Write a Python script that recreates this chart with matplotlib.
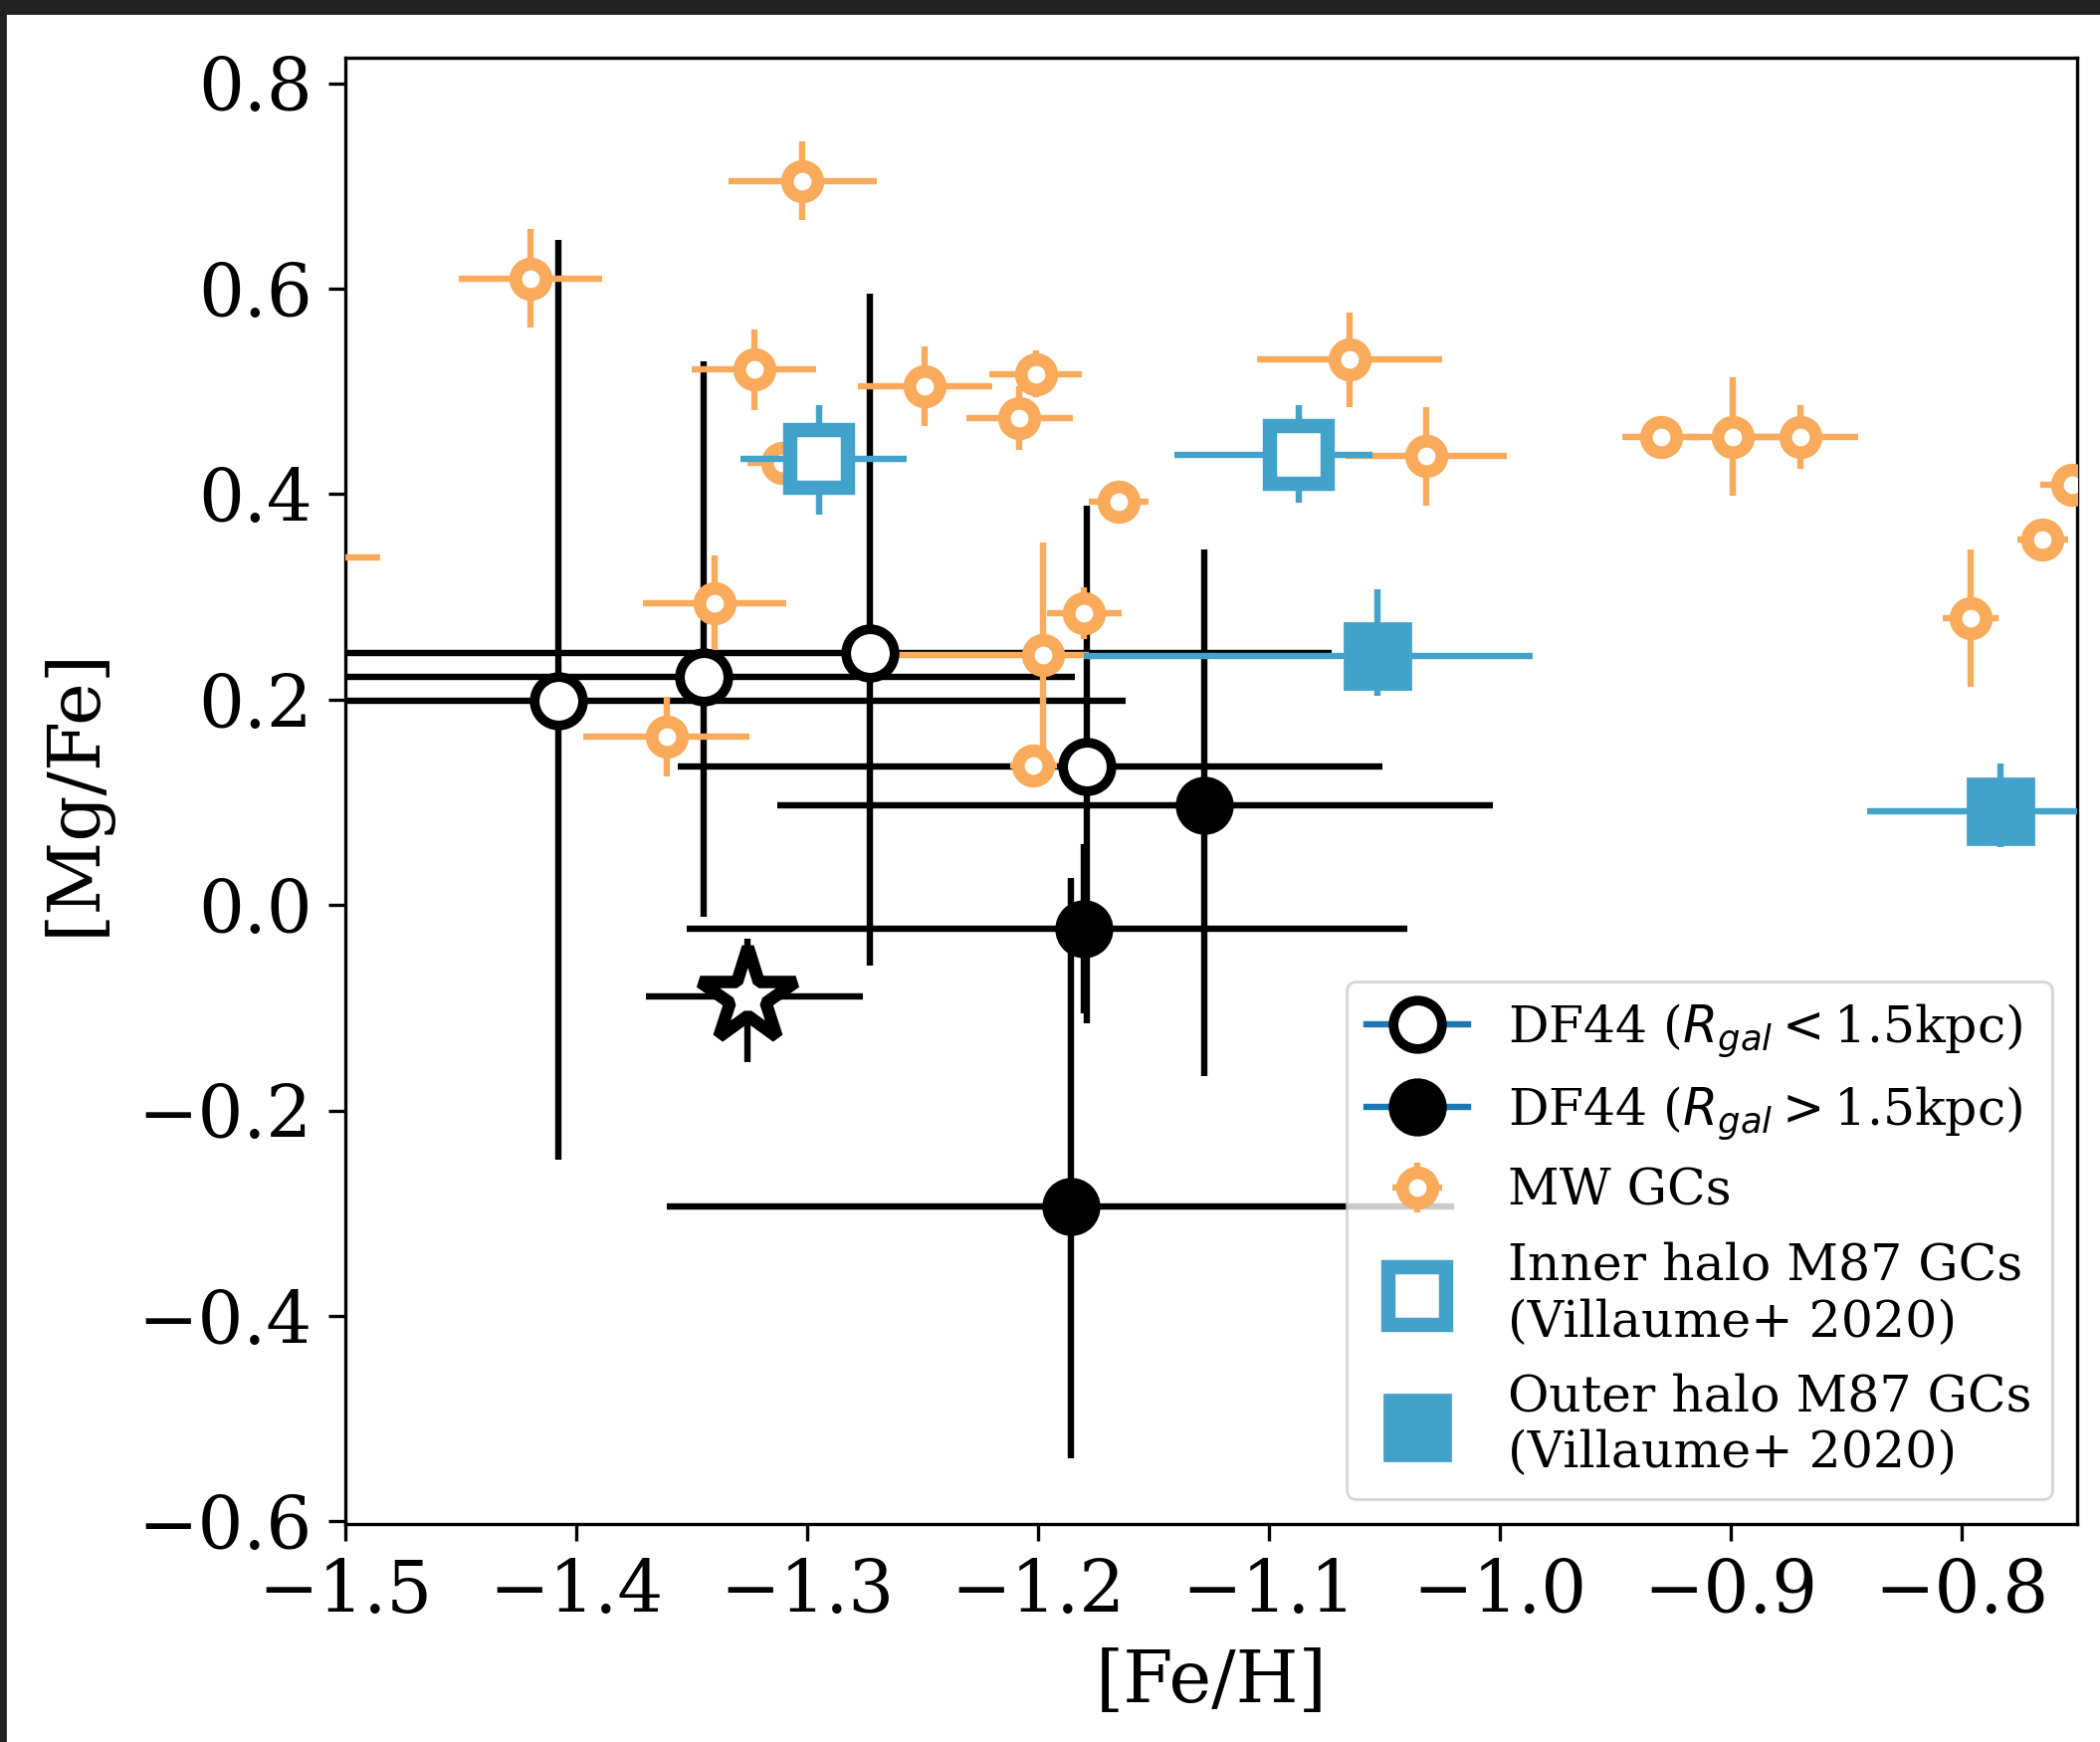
import numpy as np
import matplotlib.pyplot as plt
from matplotlib.lines import Line2D
from matplotlib.patches import Rectangle
from matplotlib import rcParams

rcParams['font.family'] = 'serif'
rcParams['mathtext.fontset'] = 'dejavusans'

orange = '#f9aa5a'
blue = '#43a2ca'

# ------------- DF44 GCs -------------------
# inner (R_gal < 1.5 kpc), open circles
in_feh = [-1.408, -1.345, -1.273, -1.179]
in_mgfe = [0.199, 0.222, 0.245, 0.135]
in_xerr_lo = [0.246, 0.161, 0.250, 0.177]
in_xerr_hi = [0.246, 0.161, 0.200, 0.128]
in_yerr_lo = [0.447, 0.233, 0.304, 0.250]
in_yerr_hi = [0.448, 0.307, 0.350, 0.254]

# outer (R_gal > 1.5 kpc), filled circles
out_feh = [-1.128, -1.180, -1.186]
out_mgfe = [0.097, -0.023, -0.293]
out_xerr_lo = [0.185, 0.172, 0.175]
out_xerr_hi = [0.125, 0.140, 0.166]
out_yerr_lo = [0.263, 0.082, 0.245]
out_yerr_hi = [0.249, 0.082, 0.319]

# stacked value, star
star_feh = [-1.326]
star_mgfe = [-0.089]
star_xerr = [[0.044], [0.050]]
star_yerr = [[0.064], [0.056]]

# ------------- MW GCs -------------------
mw_feh = [-1.520, -1.420, -1.302, -1.323, -1.311, -1.249, -1.201, -1.208,
          -1.340, -1.361, -1.198, -1.202, -1.180, -1.165, -1.065, -1.032,
          -0.930, -0.899, -0.870, -0.796, -0.765, -0.752]
mw_mgfe = [0.338, 0.610, 0.705, 0.521, 0.430, 0.505, 0.517, 0.474,
           0.294, 0.164, 0.243, 0.136, 0.284, 0.393, 0.531, 0.437,
           0.456, 0.456, 0.456, 0.279, 0.356, 0.409]
mw_xerr_lo = [0.035, 0.031, 0.032, 0.027, 0.015, 0.029, 0.020, 0.023,
              0.031, 0.036, 0.065, 0.010, 0.016, 0.013, 0.040, 0.035,
              0.017, 0.020, 0.025, 0.012, 0.011, 0.014]
mw_xerr_hi = [0.035, 0.031, 0.032, 0.027, 0.015, 0.029, 0.020, 0.023,
              0.031, 0.036, 0.020, 0.010, 0.016, 0.013, 0.040, 0.035,
              0.017, 0.020, 0.025, 0.012, 0.011, 0.014]
mw_yerr = [0.010, 0.048, 0.038, 0.039, 0.010, 0.039, 0.023, 0.031,
           0.046, 0.039, 0.110, 0.010, 0.025, 0.012, 0.046, 0.048,
           0.010, 0.058, 0.031, 0.067, 0.012, 0.012]

# ------------- M87 GCs (Villaume+ 2020) -------------------
m87in_feh = [-1.295, -1.087]
m87in_mgfe = [0.434, 0.438]
m87in_xerr = [[0.034, 0.054], [0.038, 0.032]]
m87in_yerr = [[0.054, 0.046], [0.053, 0.049]]

m87out_feh = [-1.053, -0.783]
m87out_mgfe = [0.242, 0.0915]
m87out_xerr = [[0.127, 0.058], [0.067, 0.060]]
m87out_yerr = [[0.038, 0.035], [0.065, 0.046]]

fig = plt.figure(figsize=(10.55, 8.75), dpi=200)
ax = fig.add_axes([0.1645, 0.1251, 0.8246, 0.8418])

elw = 2.3

ax.errorbar(in_feh, in_mgfe, xerr=[in_xerr_lo, in_xerr_hi],
            yerr=[in_yerr_lo, in_yerr_hi], fmt='none', ecolor='k',
            elinewidth=elw, capsize=0, zorder=2)
ax.errorbar(out_feh, out_mgfe, xerr=[out_xerr_lo, out_xerr_hi],
            yerr=[out_yerr_lo, out_yerr_hi], fmt='none', ecolor='k',
            elinewidth=elw, capsize=0, zorder=2)
ax.errorbar(star_feh, star_mgfe, xerr=star_xerr, yerr=star_yerr,
            fmt='none', ecolor='k', elinewidth=elw, capsize=0, zorder=2)

mw = ax.errorbar(mw_feh, mw_mgfe, xerr=[mw_xerr_lo, mw_xerr_hi], yerr=mw_yerr,
                 fmt='o', color=orange, mfc='w', mec=orange, ms=11, mew=4.6,
                 ecolor=orange, elinewidth=elw, capsize=0, zorder=3,
                 label='MW GCs')

ax.errorbar(m87in_feh, m87in_mgfe, xerr=m87in_xerr, yerr=m87in_yerr,
            fmt='s', color=blue, mfc='w', mec=blue, ms=21, mew=5.2,
            ecolor=blue, elinewidth=elw, capsize=0, zorder=4)
ax.errorbar(m87out_feh, m87out_mgfe, xerr=m87out_xerr, yerr=m87out_yerr,
            fmt='s', color=blue, mfc=blue, mec=blue, ms=24, mew=1,
            ecolor=blue, elinewidth=elw, capsize=0, zorder=4)

ax.plot(in_feh, in_mgfe, 'o', ms=17.5, mfc='w', mec='k', mew=3.5, zorder=6)
ax.plot(out_feh, out_mgfe, 'o', ms=20, mfc='k', mec='k', mew=1, zorder=6)
ax.plot(star_feh, star_mgfe, '*', ms=36, mfc='w', mec='k', mew=4.5, zorder=6)

ax.set_xlim(-1.5, -0.75)
ax.set_ylim(-0.6025, 0.8248)
ax.set_xticks(np.arange(-1.5, -0.75, 0.1))
ax.set_yticks(np.arange(-0.6, 0.81, 0.2))
ax.tick_params(labelsize=26, length=6, width=1.2, pad=6)
for s in ax.spines.values():
    s.set_linewidth(1.2)
ax.set_xlabel('[Fe/H]', fontsize=26, labelpad=7)
ax.set_ylabel('[Mg/Fe]', fontsize=26, labelpad=10)

h1 = Line2D([], [], color='C0', lw=elw, marker='o', ms=17.5, mfc='w',
            mec='k', mew=3.5)
h2 = Line2D([], [], color='C0', lw=elw, marker='o', ms=20, mfc='k',
            mec='k', mew=1)
h4 = Line2D([], [], ls='none', marker='s', ms=21, mfc='w', mec=blue, mew=5.2)
h5 = Line2D([], [], ls='none', marker='s', ms=24, mfc=blue, mec=blue, mew=1)
ax.legend([h1, h2, mw, h4, h5],
          [r'DF44 ($R_{gal}<$1.5kpc)', r'DF44 ($R_{gal}>$1.5kpc)',
           'MW GCs', 'Inner halo M87 GCs\n(Villaume+ 2020)',
           'Outer halo M87 GCs\n(Villaume+ 2020)'],
          loc='lower right', fontsize=18.2)

# dark screenshot border (top and left)
fig.add_artist(Rectangle((0, 1 - 13 / 1750), 1, 13 / 1750,
                         transform=fig.transFigure, color='#222222', zorder=10))
fig.add_artist(Rectangle((0, 0), 5 / 2110, 1,
                         transform=fig.transFigure, color='#222222', zorder=10))

fig.savefig('out.png', dpi=200)
